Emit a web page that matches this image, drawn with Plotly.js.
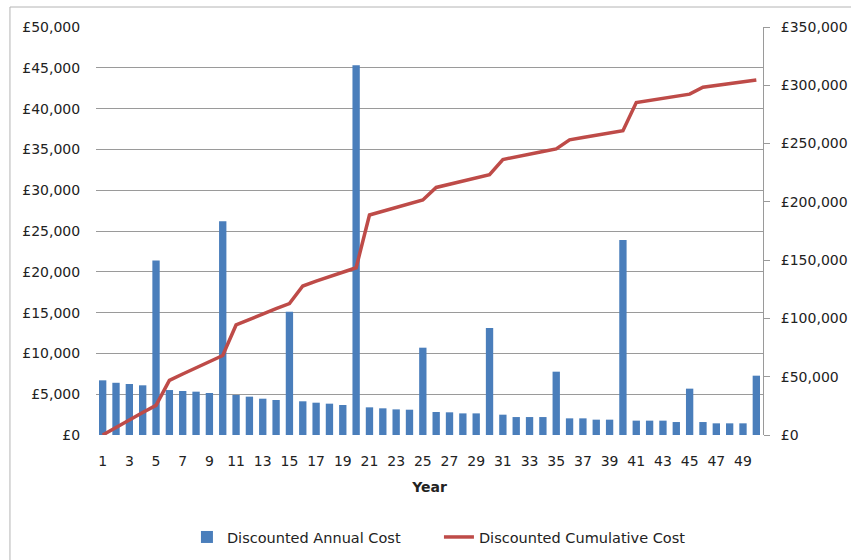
<!DOCTYPE html>
<html>
<head>
<meta charset="utf-8">
<script src="https://cdn.plot.ly/plotly-3.0.1.min.js"></script>
<style>
html,body{margin:0;padding:0;background:#fff;}
#chart{width:851px;height:560px;}
</style>
</head>
<body>
<div id="chart"></div>
<script>
var years = [];
for (var i = 1; i <= 50; i++) years.push(i);

var annualCost = [
  6700, 6400, 6250, 6090, 21400, 5510, 5390, 5310, 5150, 26200,
  4900, 4700, 4450, 4290, 15100, 4130, 3960, 3840, 3680, 45300,
  3390, 3270, 3140, 3100, 10700, 2820, 2780, 2650, 2650, 13100,
  2490, 2200, 2200, 2200, 7760, 2040, 2040, 1880, 1880, 23900,
  1760, 1760, 1760, 1590, 5680, 1590, 1430, 1430, 1430, 7270
];

var cumulativeCost = [
  0, 6700, 13100, 19350, 25440, 46840, 52350, 57740, 63050, 68200,
  94400, 99300, 104000, 108450, 112740, 127840, 131970, 135930, 139770, 143450,
  188750, 192140, 195410, 198550, 201650, 212350, 215170, 217950, 220600, 223250,
  236350, 238840, 241040, 243240, 245440, 253200, 255240, 257280, 259160, 261040,
  285200, 287000, 288800, 290500, 292400, 298300, 299900, 301400, 302900, 304600
];

var xTickVals = [1,3,5,7,9,11,13,15,17,19,21,23,25,27,29,31,33,35,37,39,41,43,45,47,49];

var FONT = 'DejaVu Sans, Verdana, sans-serif';
var TICKSIZE = 14;

var traces = [
  {
    type: 'bar',
    name: 'Discounted Annual Cost',
    x: years,
    y: annualCost,
    marker: {color: '#4a7ebb'},
    yaxis: 'y'
  },
  {
    type: 'scatter',
    mode: 'lines',
    name: 'Discounted Cumulative Cost',
    x: years,
    y: cumulativeCost,
    line: {color: '#be4b48', width: 3.5},
    yaxis: 'y2'
  }
];

var layout = {
  width: 851,
  height: 560,
  margin: {l: 96, r: 88, t: 27, b: 125},
  paper_bgcolor: '#ffffff',
  plot_bgcolor: '#ffffff',
  font: {family: FONT, size: TICKSIZE, color: '#222'},
  bargap: 0.45,
  showlegend: true,
  legend: {
    orientation: 'h',
    xref: 'container', yref: 'container',
    x: 0.5158, xanchor: 'center',
    y: 0.041, yanchor: 'middle',
    font: {family: FONT, size: 14.5, color: '#222'},
    entrywidth: 207,
    entrywidthmode: 'pixels',
    traceorder: 'normal'
  },
  xaxis: {
    type: 'linear',
    range: [0.5, 50.5],
    tickmode: 'array',
    tickvals: xTickVals,
    ticktext: xTickVals.map(String),
    showgrid: false,
    zeroline: false,
    showline: false,
    ticks: 'outside',
    ticklen: 13,
    tickcolor: 'rgba(0,0,0,0)',
    tickfont: {family: FONT, size: TICKSIZE, color: '#222'},
    title: {text: '<b>Year</b>', font: {family: FONT, size: TICKSIZE, color: '#222'}, standoff: 14},
    automargin: false
  },
  yaxis: {
    range: [0, 50000],
    tickmode: 'linear',
    tick0: 0,
    dtick: 5000,
    tickprefix: '£',
    tickformat: ',d',
    showgrid: true,
    gridcolor: '#9a9a9a',
    gridwidth: 1,
    zeroline: false,
    showline: false,
    ticks: 'outside',
    ticklen: 12,
    tickcolor: 'rgba(0,0,0,0)',
    tickfont: {family: FONT, size: TICKSIZE, color: '#222'},
    automargin: false
  },
  yaxis2: {
    overlaying: 'y',
    side: 'right',
    range: [0, 350000],
    tickmode: 'linear',
    tick0: 0,
    dtick: 50000,
    tickprefix: '£',
    tickformat: ',d',
    showgrid: false,
    zeroline: false,
    showline: true,
    linecolor: '#9a9a9a',
    linewidth: 1,
    ticks: 'outside',
    ticklen: 6,
    tickcolor: '#9a9a9a',
    ticklabelstandoff: 8,
    tickfont: {family: FONT, size: TICKSIZE, color: '#222'},
    automargin: false
  },
  shapes: [
    {
      type: 'rect',
      xref: 'paper', yref: 'paper',
      x0: -0.129, x1: 1.4,
      y0: -0.5, y1: 1.049,
      line: {color: '#b4b4b4', width: 1},
      fillcolor: 'rgba(0,0,0,0)',
      layer: 'below'
    }
  ]
};

Plotly.newPlot('chart', traces, layout, {displayModeBar: false, staticPlot: true});
</script>
</body>
</html>
